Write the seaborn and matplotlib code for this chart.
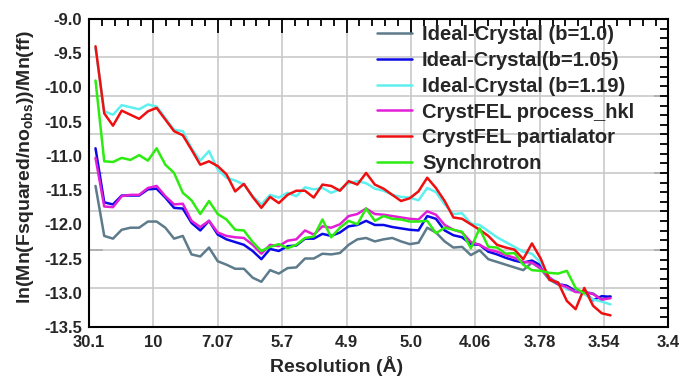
import numpy as np
import pandas as pd
import matplotlib
matplotlib.use("Agg")
import matplotlib.pyplot as plt
import seaborn as sns

# Resolution tick labels (Å), one per major division of the x axis
res_labels = ["30.1", "10", "7.07", "5.7", "4.9", "5.0", "4.06", "3.78", "3.54", "3.4"]
y_labels = ["-9.0", "-9.5", "-10.0", "-10.5", "-11.0", "-11.5", "-12.0", "-12.5", "-13.0", "-13.5"]

series_names = [
    "Ideal-Crystal (b=1.0)",
    "Ideal-Crystal(b=1.05)",
    "Ideal-Crystal (b=1.19)",
    "CrystFEL process_hkl",
    "CrystFEL partialator",
    "Synchrotron",
]
series_colors = ["#5e7b8c", "#0a0ae8", "#5ef0ee", "#e21ed6", "#ee1010", "#2cec10"]

# shell centres along the resolution axis
shell_pos = np.linspace(0.1, 8.1, 60)

ideal_b100 = [-11.44, -12.17, -12.21, -12.08, -12.05, -12.05, -11.96, -11.96, -12.05, -12.21,
              -12.17, -12.44, -12.47, -12.34, -12.54, -12.59, -12.65, -12.65, -12.78, -12.84,
              -12.67, -12.72, -12.64, -12.63, -12.50, -12.50, -12.43, -12.44, -12.42, -12.30,
              -12.22, -12.20, -12.25, -12.22, -12.20, -12.25, -12.29, -12.27, -12.05, -12.12,
              -12.25, -12.34, -12.33, -12.45, -12.38, -12.51, -12.55, -12.59, -12.63, -12.67,
              -12.56, -12.65, -12.81, -12.88, -12.90, -12.97, -12.99, -13.01, -13.10, -13.05]
ideal_b105 = [-10.89, -11.68, -11.71, -11.58, -11.58, -11.58, -11.49, -11.48, -11.61, -11.76,
              -11.77, -11.98, -12.09, -11.95, -12.15, -12.22, -12.26, -12.30, -12.39, -12.51,
              -12.36, -12.39, -12.32, -12.31, -12.21, -12.21, -12.14, -12.17, -12.12, -12.03,
              -12.01, -11.95, -12.01, -12.01, -12.04, -12.06, -12.08, -12.09, -11.88, -11.92,
              -12.09, -12.16, -12.19, -12.29, -12.30, -12.40, -12.44, -12.49, -12.53, -12.56,
              -12.53, -12.60, -12.78, -12.87, -12.90, -12.98, -12.99, -13.11, -13.05, -13.06]
ideal_b119 = [-9.42, -10.35, -10.40, -10.26, -10.29, -10.32, -10.25, -10.28, -10.45, -10.62,
              -10.64, -10.89, -11.07, -10.93, -11.20, -11.32, -11.36, -11.42, -11.59, -11.71,
              -11.57, -11.61, -11.54, -11.59, -11.46, -11.49, -11.47, -11.54, -11.49, -11.40,
              -11.37, -11.40, -11.48, -11.51, -11.57, -11.60, -11.61, -11.65, -11.47, -11.53,
              -11.71, -11.85, -11.84, -11.99, -12.01, -12.10, -12.19, -12.26, -12.33, -12.40,
              -12.43, -12.56, -12.78, -12.85, -12.95, -12.98, -13.02, -13.10, -13.13, -13.17]
process_hkl = [-11.03, -11.74, -11.75, -11.59, -11.57, -11.57, -11.47, -11.44, -11.59, -11.71,
               -11.70, -11.95, -12.04, -11.95, -12.12, -12.17, -12.19, -12.20, -12.30, -12.43,
               -12.30, -12.32, -12.24, -12.22, -12.09, -12.15, -12.03, -12.05, -12.00, -11.88,
               -11.85, -11.77, -11.85, -11.86, -11.88, -11.90, -11.92, -11.93, -11.81, -11.86,
               -12.01, -12.08, -12.12, -12.26, -12.30, -12.37, -12.40, -12.45, -12.49, -12.55,
               -12.56, -12.64, -12.78, -12.87, -12.92, -12.99, -12.99, -13.02, -13.10, -13.08]
partialator = [-9.40, -10.38, -10.56, -10.34, -10.40, -10.46, -10.35, -10.30, -10.47, -10.64,
               -10.70, -10.91, -11.13, -11.08, -11.15, -11.27, -11.52, -11.41, -11.60, -11.76,
               -11.60, -11.69, -11.57, -11.51, -11.51, -11.61, -11.42, -11.44, -11.51, -11.37,
               -11.42, -11.25, -11.42, -11.48, -11.57, -11.66, -11.62, -11.52, -11.32, -11.47,
               -11.66, -11.90, -11.92, -12.00, -12.08, -12.17, -12.30, -12.34, -12.37, -12.51,
               -12.28, -12.50, -12.81, -12.85, -13.12, -13.24, -12.93, -13.19, -13.30, -13.33]
synchrotron = [-9.90, -11.08, -11.09, -11.03, -11.06, -10.99, -11.07, -10.89, -11.13, -11.25,
               -11.54, -11.65, -11.85, -11.66, -11.85, -11.93, -12.08, -12.09, -12.26, -12.39,
               -12.33, -12.29, -12.35, -12.30, -12.20, -12.18, -11.93, -12.19, -12.05, -11.95,
               -12.00, -11.77, -11.95, -11.88, -11.92, -11.93, -11.96, -11.96, -11.95, -12.13,
               -12.05, -12.08, -12.11, -12.35, -12.06, -12.33, -12.34, -12.43, -12.42, -12.59,
               -12.67, -12.68, -12.71, -12.72, -12.68, -12.93, -13.01]

all_values = [ideal_b100, ideal_b105, ideal_b119, process_hkl, partialator, synchrotron]

sns.set_style("white")
plt.rcParams["font.family"] = ["Liberation Sans", "DejaVu Sans"]
plt.rcParams["font.weight"] = "bold"
plt.rcParams["mathtext.fontset"] = "custom"
plt.rcParams["mathtext.rm"] = "Liberation Sans:bold"
plt.rcParams["mathtext.it"] = "Liberation Sans:bold"
plt.rcParams["mathtext.bf"] = "Liberation Sans:bold"

frames = []
for name, vals in zip(series_names, all_values):
    frames.append(pd.DataFrame({"res": shell_pos[:len(vals)], "val": vals, "series": name}))
df = pd.concat(frames, ignore_index=True)

fig = plt.figure(figsize=(6.8, 3.78), dpi=100)
ax = fig.add_axes([0.131, 0.135, 0.852, 0.815])

sns.lineplot(data=df, x="res", y="val", hue="series", hue_order=series_names,
             palette=series_colors, linewidth=1.8, sort=False, estimator=None, ax=ax)

ax.set_xlim(0, 9)
ax.set_ylim(-13.5, -9.0)

# x axis: labelled majors with gridlines, five subdivisions each
ax.set_xticks(np.arange(10))
ax.set_xticklabels(res_labels)
ax.set_xticks(np.arange(0, 9.001, 0.2), minor=True)

# y axis: eight grid divisions with four minor steps each
grid_y = -9.0 - 0.5625 * np.arange(9)
ax.set_yticks(grid_y)
ax.set_yticks(np.arange(-13.5, -8.999, 0.140625), minor=True)

ax.grid(True, which="major", color="#c9c9c9", linewidth=1.2)
ax.set_axisbelow(True)
ax.tick_params(which="both", direction="in", top=True, right=True,
               width=1.3, color="black")
ax.tick_params(axis="x", which="major", length=10, labelsize=12, pad=6)
ax.tick_params(axis="x", which="minor", length=5)
ax.tick_params(axis="y", which="both", length=6, labelleft=False)

for sp in ax.spines.values():
    sp.set_linewidth(1.5)
    sp.set_color("black")

# value labels on the left
sec_lab = ax.secondary_yaxis("left")
sec_lab.set_yticks(np.arange(-9.0, -13.51, -0.5), labels=y_labels)
sec_lab.tick_params(length=0, labelsize=12, pad=5)
sec_lab.spines["left"].set_visible(False)

# longer ticks every second grid division on both sides
long_y = -9.0 - 1.125 * np.arange(5)
for side in ("left", "right"):
    sec = ax.secondary_yaxis(side)
    sec.set_yticks(long_y)
    sec.tick_params(direction="in", length=10, width=1.3,
                    labelleft=False, labelright=False)
    sec.spines[side].set_visible(False)

ax.set_xlabel("Resolution (Å)", fontsize=14, fontweight="bold")
ax.xaxis.set_label_coords(0.428, -0.095)
ax.set_ylabel(r"ln(Mn(Fsquared/no$_{\mathrm{obs}}$))/Mn(ff)", fontsize=14, fontweight="bold")
ax.yaxis.set_label_coords(-0.092, 0.52)

handles, labels = ax.get_legend_handles_labels()
ax.legend(handles, labels, loc="upper left",
          bbox_to_anchor=(377 / 680, 1 - 25 / 378), bbox_transform=fig.transFigure,
          frameon=False, prop={"weight": "bold", "size": 14.5},
          handlelength=1.74, handletextpad=0.5, labelspacing=0.34,
          borderpad=0, borderaxespad=0)

fig.savefig("out.png", dpi=100)
